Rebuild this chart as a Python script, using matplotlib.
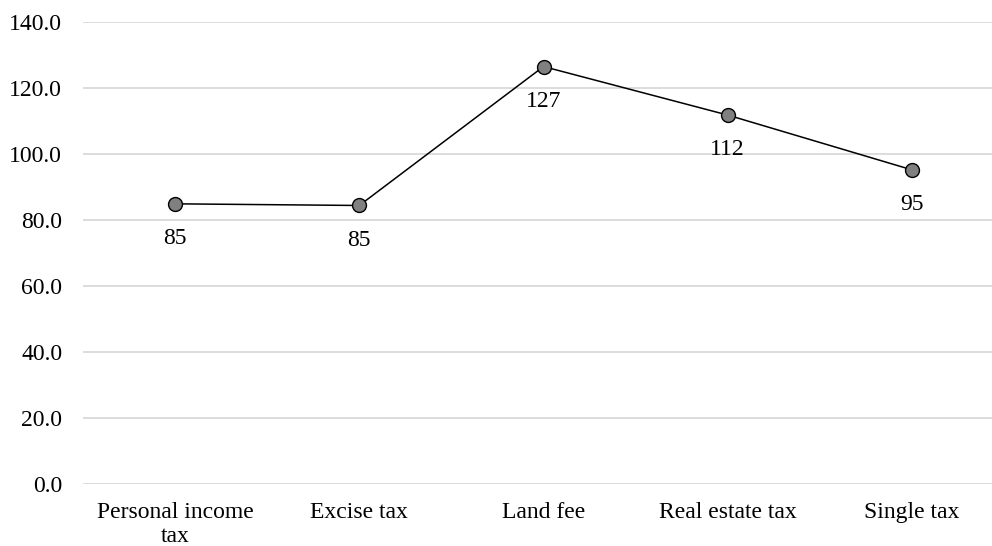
import matplotlib
matplotlib.use("Agg")
import matplotlib.pyplot as plt

categories = ["Personal income\ntax", "Excise tax", "Land fee", "Real estate tax", "Single tax"]
values = [84.9, 84.4, 126.5, 111.8, 95.2]
labels = ["85", "85", "127", "112", "95"]
yticks = [0, 20, 40, 60, 80, 100, 120, 140]

plt.rcParams['font.family'] = ['Liberation Serif', 'DejaVu Serif']
FS = 17

fig = plt.figure(figsize=(9.92, 5.46), dpi=100)
ax = fig.add_axes([83/992, (546-484)/546, 921/992, (484-22)/546])
x = list(range(len(categories)))
ax.plot(x, values, color='black', lw=1.1, marker='o', markersize=10,
        markerfacecolor='#808080', markeredgecolor='black', markeredgewidth=1.0, zorder=3)
for xi, v, lab in zip(x, values, labels):
    ax.annotate(lab, (xi, v), xytext=(0, -25), textcoords='offset points',
                ha='center', va='center', fontsize=FS)
ax.set_xlim(-0.5, len(categories) - 0.5)
ax.set_ylim(0, 140)
ax.set_yticks(yticks)
ax.set_yticklabels([f"{t:.1f}" for t in yticks], fontsize=FS)
ax.set_xticks(x)
ax.set_xticklabels(categories, fontsize=FS, linespacing=1.2)
ax.tick_params(axis='both', length=0)
ax.tick_params(axis='y', pad=15)
ax.tick_params(axis='x', pad=13)
for s in ax.spines.values():
    s.set_visible(False)
ax.grid(axis='y', color='#d9d9d9', lw=1.3, zorder=0)
ax.set_axisbelow(True)
fig.savefig("out.png", dpi=100)
